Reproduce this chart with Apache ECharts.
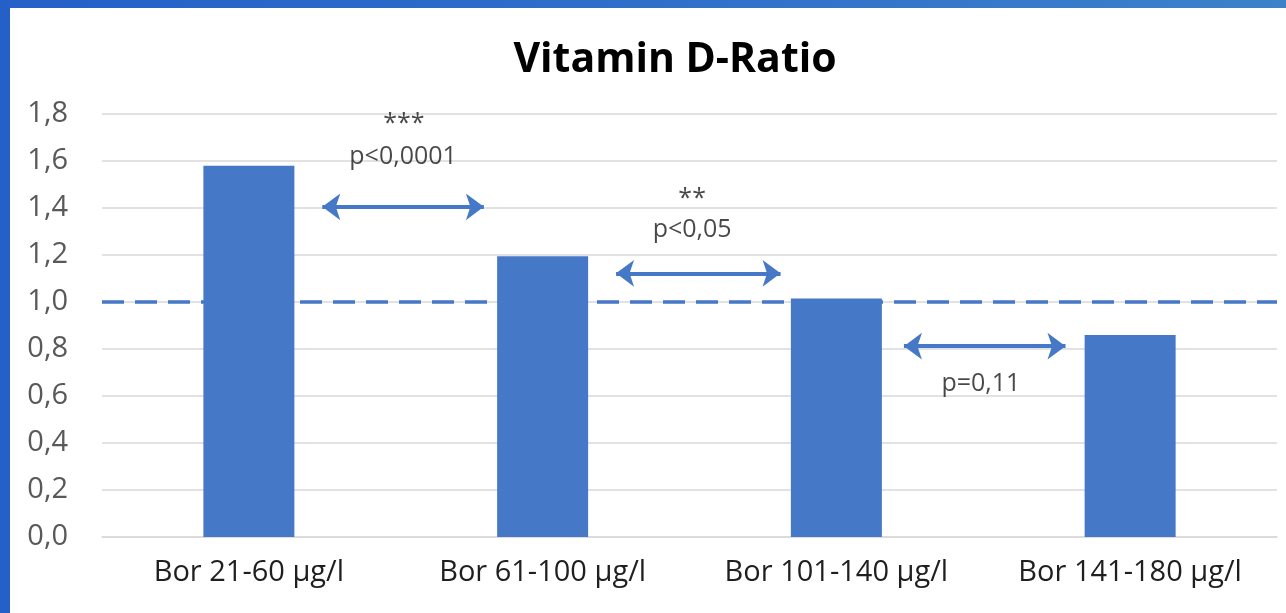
<!DOCTYPE html>
<html lang="de">
<head>
    <meta charset="UTF-8">
    <title>Vitamin D-Ratio</title>
    <script src="https://cdn.jsdelivr.net/npm/echarts@6/dist/echarts.min.js"></script>
    <style>
        * {
            margin: 0;
            padding: 0
        }

        html, body {
            width: 100%;
            height: 100%;
            overflow: hidden;
        }

        body {
            background: linear-gradient(90deg, #2460c8 0%, #2f6fca 50%, #3b82c9 100%);
        }

        #main {
            position: absolute;
            left: 10px;
            top: 8px;
            width: 1276px;
            height: 605px;
            background: #fff;
        }
    </style>
</head>
<body>
<div id="main"></div>
<script type="text/javascript">
    // Kategorien und Werte
    var categories = ['Bor 21-60 µg/l', 'Bor 61-100 µg/l', 'Bor 101-140 µg/l', 'Bor 141-180 µg/l'];
    var ratios = [1.58, 1.195, 1.015, 0.86];
    var referenceLine = 1.0;

    // Pfeile zwischen den Gruppen: [x von, x bis, y] (x in Kategorie-Einheiten 0..4)
    var arrows = [
        [0.75, 1.30, 1.405],
        [1.75, 2.31, 1.122],
        [2.73, 3.28, 0.812]
    ];
    // Beschriftungen: [x, y, Text]
    var notes = [
        [1.028, 1.76, '***'],
        [1.025, 1.616, 'p<0,0001'],
        [2.009, 1.44, '**'],
        [2.009, 1.305, 'p<0,05'],
        [2.992, 0.650, 'p=0,11']
    ];

    var blue = '#4678c8';
    var font = '"Open Sans", "Noto Sans", sans-serif';

    var myChart = echarts.init(document.getElementById('main'));

    var option = {
        animation: false,
        title: {
            text: 'Vitamin D-Ratio',
            left: 660,
            top: 27,
            textAlign: 'center',
            textStyle: {
                fontFamily: font,
                fontSize: 41,
                fontWeight: 'bold',
                color: '#000'
            }
        },
        grid: {
            left: 92,
            right: 9,
            top: 106,
            bottom: 76
        },
        xAxis: [
            {
                type: 'category',
                data: categories,
                axisTick: {show: false},
                axisLine: {lineStyle: {color: '#d9d9d9', width: 1.5}},
                axisLabel: {
                    margin: 21,
                    fontFamily: font,
                    fontSize: 29,
                    color: '#1f1f1f'
                }
            },
            {
                type: 'value',
                min: 0,
                max: 4,
                show: false
            }
        ],
        yAxis: {
            type: 'value',
            min: 0,
            max: 1.8,
            interval: 0.2,
            axisLine: {show: false},
            axisTick: {show: false},
            splitLine: {lineStyle: {color: '#d9d9d9', width: 1.5}},
            axisLabel: {
                margin: 34,
                fontFamily: font,
                fontSize: 29,
                color: '#595959',
                formatter: function (v) {
                    return v.toFixed(1).replace('.', ',');
                }
            }
        },
        series: [
            {
                name: 'Vitamin D-Ratio',
                type: 'bar',
                data: ratios,
                barWidth: 91,
                itemStyle: {color: blue},
                markLine: {
                    silent: true,
                    symbol: 'none',
                    label: {show: false},
                    lineStyle: {color: blue, type: [22, 11], width: 3.5},
                    data: [{yAxis: referenceLine}]
                }
            },
            {
                name: 'Pfeile',
                type: 'scatter',
                xAxisIndex: 1,
                data: [],
                markLine: {
                    silent: true,
                    symbol: ['arrow', 'arrow'],
                    symbolSize: [20, 18],
                    label: {show: false},
                    lineStyle: {color: blue, type: 'solid', width: 4},
                    data: arrows.map(function (a) {
                        return [{coord: [a[0], a[2]]}, {coord: [a[1], a[2]]}];
                    })
                }
            },
            {
                name: 'Notizen',
                type: 'scatter',
                xAxisIndex: 1,
                symbolSize: 0,
                data: notes.map(function (n) {
                    return {value: [n[0], n[1]], name: n[2]};
                }),
                label: {
                    show: true,
                    position: 'inside',
                    formatter: '{b}',
                    fontFamily: font,
                    fontSize: 25,
                    color: '#1a1a1a'
                }
            }
        ]
    };

    myChart.setOption(option);
</script>
</body>
</html>
